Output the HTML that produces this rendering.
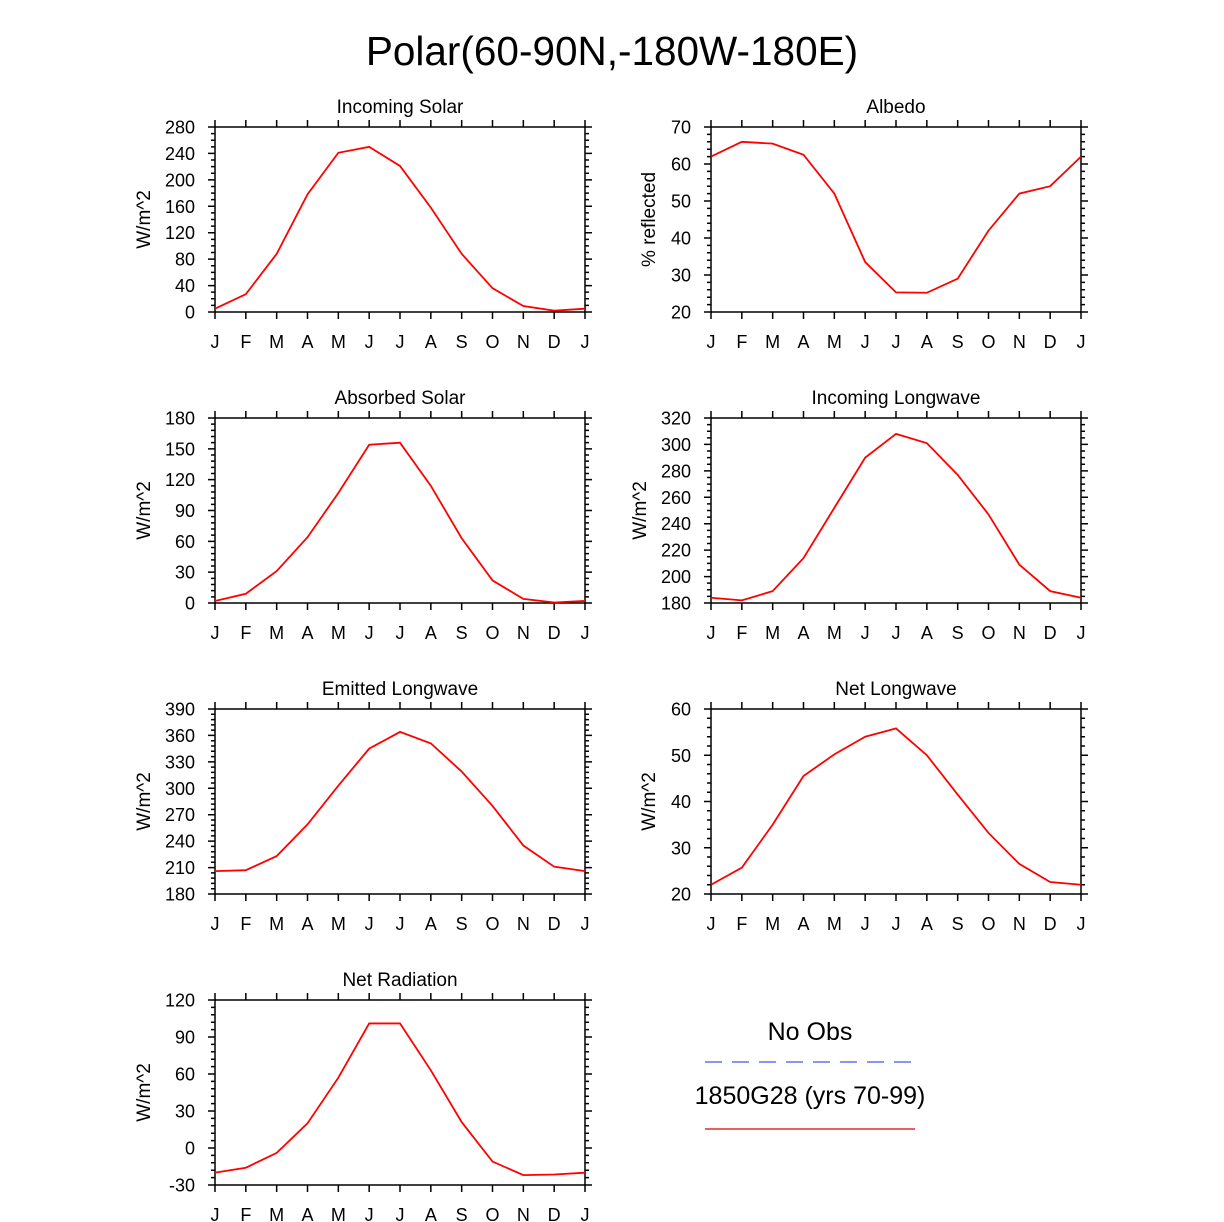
<!DOCTYPE html>
<html><head><meta charset="utf-8"><style>
html,body{margin:0;padding:0;background:#fff;}
svg{display:block;font-family:"Liberation Sans",sans-serif;}
</style></head><body>
<svg id="chart" width="1224" height="1222" viewBox="0 0 1224 1222">
<text x="612" y="65" text-anchor="middle" font-size="40.5">Polar(60-90N,-180W-180E)</text>
<g>
<text x="810" y="1040" text-anchor="middle" font-size="25">No Obs</text>
<line x1="705" y1="1062" x2="915" y2="1062" stroke="#4455ee" stroke-width="1.2" stroke-dasharray="17,10"/>
<text x="810" y="1104" text-anchor="middle" font-size="25">1850G28 (yrs 70-99)</text>
<line x1="705" y1="1129" x2="915" y2="1129" stroke="#dd0000" stroke-width="1.2"/>
</g>
</svg>
<script>
const months = ["J","F","M","A","M","J","J","A","S","O","N","D","J"];
const incomingSolar = [5,27,88,178,241,250,221,158,88,36,9,2,5];
const albedo = [62,66,65.5,62.5,52,33.5,25.3,25.2,29,42,52,54,62];
const absorbedSolar = [2,9,31,64,107,154,156,114,63,22,4,0.5,2];
const incomingLW = [184,182,189,214,252,290,308,301,277,247,209,189,184];
const emittedLW = [206,207,223,259,303,345,364,351,319,280,235,211,206];
const netLW = [22,25.7,35,45.5,50.2,54,55.8,50,41.5,33.2,26.5,22.6,22];
const netRad = [-20,-16,-4,20,57,101,101,63,21,-11,-22,-21.5,-20];
const ticksIS = [0,40,80,120,160,200,240,280];
const ticksAlb = [20,30,40,50,60,70];
const ticksAbs = [0,30,60,90,120,150,180];
const ticksILW = [180,200,220,240,260,280,300,320];
const ticksELW = [180,210,240,270,300,330,360,390];
const ticksNLW = [20,30,40,50,60];
const ticksNR = [-30,0,30,60,90,120];

const svg = document.getElementById('chart');
const NS = 'http://www.w3.org/2000/svg';
function mk(tag, attrs, parent){
  const e = document.createElementNS(NS, tag);
  for (const k in attrs) e.setAttribute(k, attrs[k]);
  parent.appendChild(e); return e;
}
function panel(name, title, ylabel, x0, y0, vals, ticks){
  const w = 370, h = 185;
  const g = mk('g', {}, svg);
  
  
  const lo = ticks[0], hi = ticks[ticks.length-1];
  const xs = i => x0 + i * w / (months.length - 1);
  const ys = v => y0 + h - (v - lo) / (hi - lo) * h;
  const t = mk('text', {x: x0 + w/2, y: y0 - 14, 'text-anchor':'middle', 'font-size':19}, g);
  t.textContent = title;
  
  
  let d = '';
  months.forEach((m, i) => {
    const x = xs(i);
    d += `M${x},${y0+h}v7M${x},${y0}v-7`;
    const tl = mk('text', {x: x, y: y0 + h + 36, 'text-anchor':'middle', 'font-size':18}, g);
    tl.textContent = m;
    
    
  });
  const step = ticks[1] - ticks[0];
  const minor = step / (step % 4 === 0 ? 4 : (step % 5 === 0 ? 5 : 4));
  for (let v = lo; v <= hi + 1e-9; v += minor) {
    const y = ys(v);
    const isMaj = Math.abs(((v - lo) / step) - Math.round((v - lo) / step)) < 1e-6;
    const L = isMaj ? 7 : 4;
    d += `M${x0},${y}h${-L}M${x0+w},${y}h${L}`;
  }
  let maxChars = 0;
  ticks.forEach(v => {
    const tl = mk('text', {x: x0 - 20, y: ys(v) + 6.5, 'text-anchor':'end', 'font-size':18}, g);
    tl.textContent = String(v);
    
    
    maxChars = Math.max(maxChars, String(v).length);
  });
  const tk = mk('path', {d: d, stroke:'#000', 'stroke-width':1.5, fill:'none'}, g);
  
  
  const bx = mk('rect', {x:x0, y:y0, width:w, height:h, fill:'none', stroke:'#000', 'stroke-width':1.5}, g);
  
  
  const lx = x0 - (45 + 9 * maxChars) + 7, ly = y0 + h/2;
  const yl = mk('text', {x: lx, y: ly, 'text-anchor':'middle', 'font-size':19, transform:`rotate(-90 ${lx} ${ly})`}, g);
  yl.textContent = ylabel;
  
  
  const pts = vals.map((v, i) => xs(i).toFixed(2) + ',' + ys(v).toFixed(2)).join(' ');
  const pl = mk('polyline', {points: pts, fill:'none', stroke:'#ff0000', 'stroke-width':1.8}, g);
  
  
}
panel('incoming-solar', 'Incoming Solar', 'W/m^2', 215, 127, incomingSolar, ticksIS);
panel('albedo', 'Albedo', '% reflected', 711, 127, albedo, ticksAlb);
panel('absorbed-solar', 'Absorbed Solar', 'W/m^2', 215, 418, absorbedSolar, ticksAbs);
panel('incoming-longwave', 'Incoming Longwave', 'W/m^2', 711, 418, incomingLW, ticksILW);
panel('emitted-longwave', 'Emitted Longwave', 'W/m^2', 215, 709, emittedLW, ticksELW);
panel('net-longwave', 'Net Longwave', 'W/m^2', 711, 709, netLW, ticksNLW);
panel('net-radiation', 'Net Radiation', 'W/m^2', 215, 1000, netRad, ticksNR);
</script>
</body></html>
